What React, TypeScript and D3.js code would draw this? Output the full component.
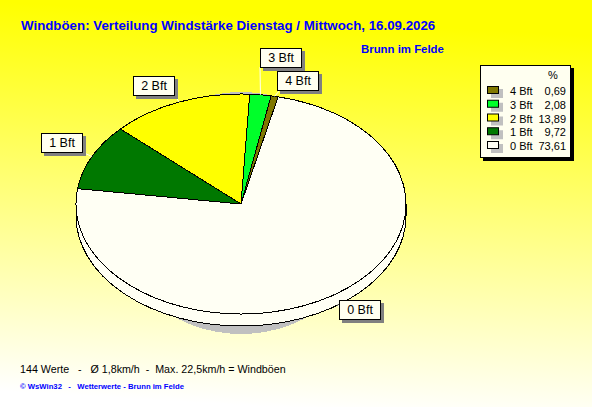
import React from 'react';
import * as d3 from 'd3';

// slices in drawing order, clockwise from the 0 Bft slice
const categories = ['0 Bft', '1 Bft', '2 Bft', '3 Bft', '4 Bft'];
const percents = [73.61, 9.72, 13.89, 2.08, 0.69];
const percentLabels = ['73,61', '9,72', '13,89', '2,08', '0,69'];
const sliceColors = ['#FFFFF4', '#007800', '#FFFF00', '#00FF2A', '#807800'];
const legendOrder = [4, 3, 2, 1, 0];

const titleText = 'Windböen: Verteilung Windstärke Dienstag / Mittwoch, 16.09.2026';
const placeText = 'Brunn im Felde';
const statsText = '144 Werte   -   Ø 1,8km/h  -  Max. 22,5km/h = Windböen';
const creditText = '© WsWin32   -   Wetterwerte - Brunn im Felde';

const width = 592;
const height = 407;
const cx = 241;
const cy = 204;
const rx = 165;
const ry = 110;
const depth = 12;
const startDeg = 13;

// label box top-left and leader attach point relative to the box
const boxW = 41;
const boxH = 19;
const labelBoxes: Record<string, { x: number; y: number; ax: number; ay: number }> = {
  '0 Bft': { x: 339, y: 300, ax: 0, ay: 8 },
  '1 Bft': { x: 41, y: 133, ax: 41, ay: 19 },
  '2 Bft': { x: 133, y: 76, ax: 41, ay: 19 },
  '3 Bft': { x: 260, y: 48, ax: 0, ay: 19 },
  '4 Bft': { x: 277, y: 71, ax: 3, ay: 19 },
};

const font = '"Liberation Sans", Arial, sans-serif';

const App: React.FC = () => {
  const pie = d3.pie<number>()
    .sort(null)
    .startAngle((startDeg * Math.PI) / 180)
    .endAngle((startDeg * Math.PI) / 180 + 2 * Math.PI);
  const arcs = pie(percents);
  const arc = d3.arc<d3.PieArcDatum<number>>().innerRadius(0).outerRadius(rx);
  const legendY = d3.scalePoint<number>().domain(d3.range(5)).range([91, 146]);

  const wall = `M${cx - rx},${cy} A${rx},${ry} 0 0 0 ${cx + rx},${cy} L${cx + rx},${cy + depth} A${rx},${ry} 0 0 1 ${cx - rx},${cy + depth} Z`;

  return (
    <svg
      width={width}
      height={height}
      viewBox={`0 0 ${width} ${height}`}
      style={{ position: 'fixed', left: 0, top: 0, display: 'block', fontFamily: font }}
    >
      <defs>
        <linearGradient id="bg" x1="0.54" y1="0.05" x2="0.46" y2="1">
          <stop offset="0" stopColor="#FFFF00" />
          <stop offset="1" stopColor="#FFFFFF" />
        </linearGradient>
      </defs>
      <rect width={width} height={height} fill="url(#bg)" />

      <text x={21} y={30} fontSize={13.3} fontWeight="bold" fill="#0000FF">{titleText}</text>
      <text x={361} y={53} fontSize={11.4} fontWeight="bold" fill="#0000FF">{placeText}</text>

      {/* pie shadow, wall, slices */}
      <ellipse cx={cx} cy={213} rx={130} ry={121} fill="#C0C0C0" shapeRendering="crispEdges" />
      <path d={wall} fill="#FFFFF4" stroke="#000" strokeWidth={1} shapeRendering="crispEdges" />
      <g transform={`translate(${cx},${cy}) scale(1,${ry / rx})`}>
        {arcs.map((d, i) => (
          <path
            key={categories[i]}
            d={arc(d) ?? ''}
            fill={sliceColors[i]}
            stroke="#000"
            strokeWidth={1}
            vectorEffect="non-scaling-stroke"
            shapeRendering="crispEdges"
          />
        ))}
      </g>

      {/* leaders and label boxes */}
      {arcs.map((d, i) => {
        const b = labelBoxes[categories[i]];
        const mid = (d.startAngle + d.endAngle) / 2;
        return (
          <line
            key={categories[i]}
            x1={cx + rx * Math.sin(mid)}
            y1={cy - ry * Math.cos(mid)}
            x2={b.x + b.ax}
            y2={b.y + b.ay}
            stroke="#FFFFF4"
            strokeWidth={1}
          />
        );
      })}
      {categories.map(c => {
        const b = labelBoxes[c];
        return (
          <g key={c} transform={`translate(${b.x},${b.y})`}>
            <rect x={3} y={3} width={boxW + 1} height={boxH + 1} fill="#808080" />
            <rect x={0.5} y={0.5} width={boxW} height={boxH} fill="#FFFFF0" stroke="#000" />
            <text x={boxW / 2 + 0.5} y={14} fontSize={12.5} textAnchor="middle" fill="#000">{c}</text>
          </g>
        );
      })}

      {/* legend */}
      <rect x={483} y={68} width={91} height={93} fill="#000" />
      <rect x={480.5} y={65.5} width={90} height={92} fill="#FFFFF0" stroke="#000" />
      <text x={553} y={79} fontSize={11} textAnchor="middle" fill="#000">%</text>
      {legendOrder.map((k, row) => {
        const y = legendY(row) ?? 0;
        return (
          <g key={categories[k]}>
            <rect x={491} y={y - 2} width={12} height={9} fill="#C0C0C0" />
            <rect x={487.5} y={y - 4.5} width={11} height={7} fill={sliceColors[k]} stroke="#000" />
            <text x={510} y={y + 4} fontSize={11} fill="#000">{categories[k]}</text>
            <text x={566} y={y + 4} fontSize={11} textAnchor="end" fill="#000">{percentLabels[k]}</text>
          </g>
        );
      })}

      <text x={20} y={373} fontSize={10.7} fill="#000" style={{ whiteSpace: 'pre' }}>{statsText}</text>
      <text x={20} y={389} fontSize={7.7} fontWeight="bold" fill="#0000FF" style={{ whiteSpace: 'pre' }}>{creditText}</text>
    </svg>
  );
};

export default App;
